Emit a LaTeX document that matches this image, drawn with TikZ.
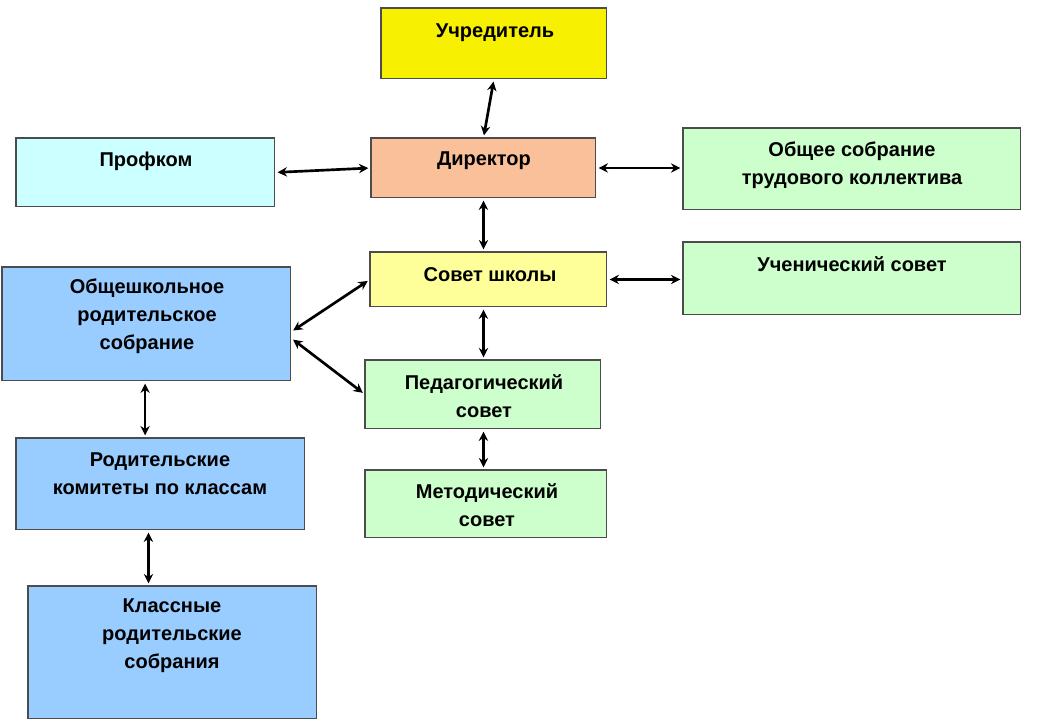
\documentclass[tikz,border=0pt]{standalone}
\usepackage{fontspec}
\setmainfont{Liberation Sans}
\usetikzlibrary{arrows.meta}
\definecolor{cyel}{HTML}{F7F000}
\definecolor{ccyan}{HTML}{CCFFFF}
\definecolor{cpeach}{HTML}{F9C09A}
\definecolor{cgreen}{HTML}{CCFFCC}
\definecolor{clyel}{HTML}{FFFF99}
\definecolor{cblue}{HTML}{99CCFF}
\tikzset{
 box/.style={draw=black!70, line width=0.8pt, inner sep=0pt, outer sep=0pt},
 lbl/.style={font=\bfseries\fontsize{15}{21}\selectfont, align=center},
 arr/.style={{Stealth[length=7pt,width=7pt]}-{Stealth[length=7pt,width=7pt]}, line width=2pt, shorten <=2pt, shorten >=2pt}
}
\begin{document}
\begin{tikzpicture}[x=0.75pt,y=-0.75pt]
\useasboundingbox (0,0) rectangle (1040,722);
\newcommand\bx[6]{\node[box,fill=#6,minimum width=#4*0.75pt-0.8pt,minimum height=#5*0.75pt-0.8pt,anchor=north west] (#1) at (#2,#3) {};}
\bx{u}{381}{8}{227}{72}{cyel}
\bx{p}{16}{138}{260}{70}{ccyan}
\bx{d}{371}{138}{226}{61}{cpeach}
\bx{g}{683}{128}{339}{83}{cgreen}
\bx{s}{370}{252}{238}{56}{clyel}
\bx{uc}{683}{242}{339}{74}{cgreen}
\bx{o}{2}{267}{290}{115}{cblue}
\bx{ped}{365}{360}{237}{70}{cgreen}
\bx{m}{365}{470}{243}{69}{cgreen}
\bx{r}{16}{438}{290}{93}{cblue}
\bx{k}{28}{586}{290}{134}{cblue}
\node[lbl] at (495,33) {Учредитель};
\node[lbl] at (146,161) {Профком};
\node[lbl] at (484,161) {Директор};
\node[lbl] at (852,165) {Общее собрание\\трудового коллектива};
\node[lbl] at (490,275) {Совет школы};
\node[lbl] at (852,264) {Ученический совет};
\node[lbl] at (147,316) {Общешкольное\\родительское\\собрание};
\node[lbl] at (484,396) {Педагогический\\совет};
\node[lbl] at (487,505) {Методический\\совет};
\node[lbl] at (160,474) {Родительские\\комитеты по классам};
\node[lbl] at (172,636) {Классные\\родительские\\собрания};
\draw[arr] (u.south) -- (d.north);
\draw[arr] (p.east) -- (d.west);
\draw[arr] (d.east) -- (d.east -| g.west);
\draw[arr] (d.south) -- (s.north -| d.south);
\draw[arr] (s.east) -- (s.east -| uc.west);
\draw[arr] (s.south -| d.south) -- (ped.north -| d.south);
\draw[arr] (ped.south -| d.south) -- (m.north -| d.south);
\draw[arr] (o.east) ++(0,8) -- (s.west);
\draw[arr] (o.east) ++(0,14) -- (ped.west);
\draw[arr] ([xshift=-1]o.south) -- ([xshift=-1]o.south |- r.north);
\draw[arr] ([xshift=-9]r.south) -- ([xshift=-9]r.south |- k.north);
\end{tikzpicture}
\end{document}
